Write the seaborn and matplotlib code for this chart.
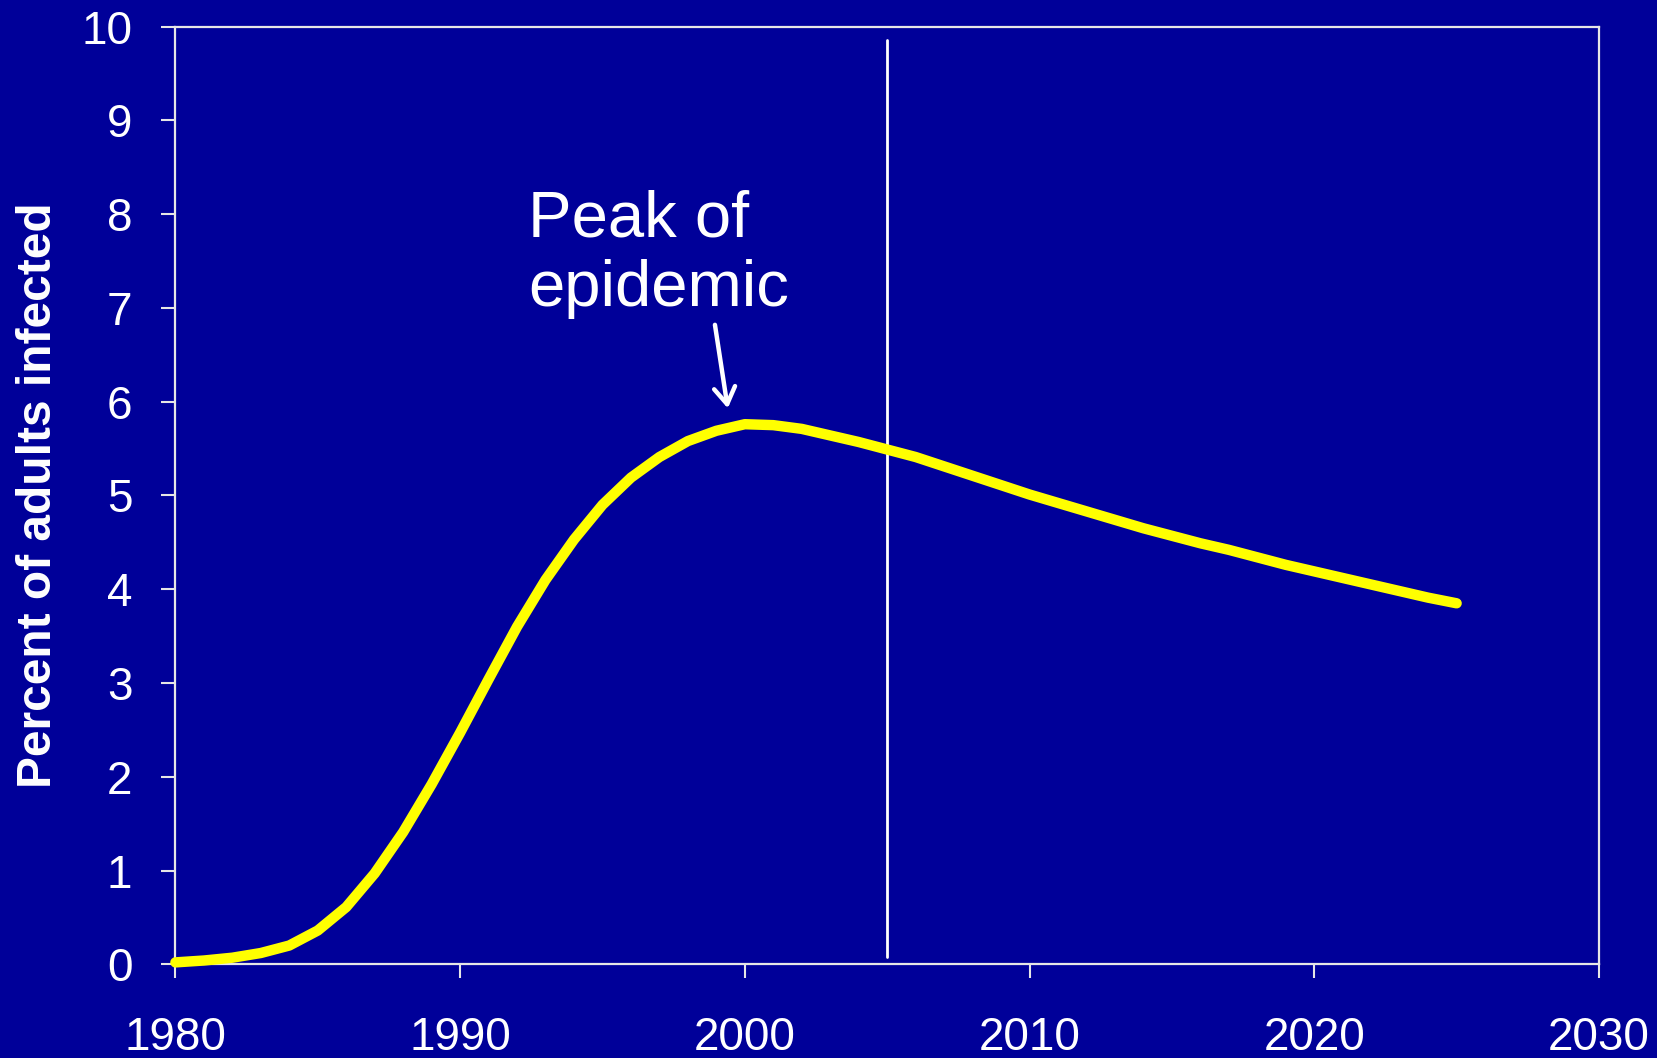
import matplotlib
matplotlib.use("Agg")
import matplotlib.pyplot as plt
import seaborn as sns
import pandas as pd

# percent of adults infected, one point per year
years = list(range(1980, 2026))
prevalence = [0.02, 0.04, 0.07, 0.12, 0.20, 0.36, 0.61, 0.97, 1.41, 1.92,
              2.47, 3.04, 3.60, 4.10, 4.53, 4.90, 5.19, 5.41, 5.58, 5.69,
              5.76, 5.75, 5.71, 5.64, 5.57, 5.49, 5.41, 5.31, 5.21, 5.11,
              5.01, 4.92, 4.83, 4.74, 4.65, 4.57, 4.49, 4.42, 4.34, 4.26,
              4.19, 4.12, 4.05, 3.98, 3.91, 3.85]
x_ticks = [1980, 1990, 2000, 2010, 2020, 2030]
y_ticks = list(range(0, 11))
marker_year = 2005
annotation = "Peak of\nepidemic"
peak_year = 1999.4
ylabel = "Percent of adults infected"

BG = "#000099"
FG = "#ffffff"
AX = "#e6e6e6"

sns.set_theme(style="ticks")
plt.rcParams["font.family"] = ["Liberation Sans", "DejaVu Sans"]

df = pd.DataFrame({"year": years, "pct": prevalence})

fig = plt.figure(figsize=(16.58, 10.58), dpi=100, facecolor=BG)
ax = fig.add_axes([0.1058, 0.0886, 0.8586, 0.8862])
ax.set_facecolor(BG)

sns.lineplot(data=df, x="year", y="pct", ax=ax, color="#ffff00", linewidth=7.5,
             solid_capstyle="round", clip_on=False, zorder=3)

ax.axvline(marker_year, ymin=0.008, ymax=0.986, color=FG, linewidth=2.0, zorder=2)

ax.text(1992.4, 7.02, annotation, fontsize=47, color=FG, ha="left", va="baseline")
ax.annotate("", xy=(peak_year, 5.93), xytext=(1998.95, 6.82),
            arrowprops=dict(arrowstyle="->,head_length=0.6,head_width=0.38",
                            mutation_scale=20, color=FG, lw=3.2,
                            shrinkA=0, shrinkB=0))

ax.set_xlim(1980, 2030)
ax.set_ylim(0, 10)
ax.set_xticks(x_ticks)
ax.set_yticks(y_ticks)

for s in ax.spines.values():
    s.set_color(AX)
    s.set_linewidth(1.6)

ax.tick_params(axis="both", colors=AX, labelcolor=FG, labelsize=33,
               length=10, width=1.5, direction="out")
ax.tick_params(axis="x", pad=27)
ax.tick_params(axis="y", pad=21)

ax.set_xlabel("")
ax.set_ylabel(ylabel, fontsize=34.5, fontweight="bold", color=FG, labelpad=15)

fig.savefig("out.png", dpi=100, facecolor=BG)
